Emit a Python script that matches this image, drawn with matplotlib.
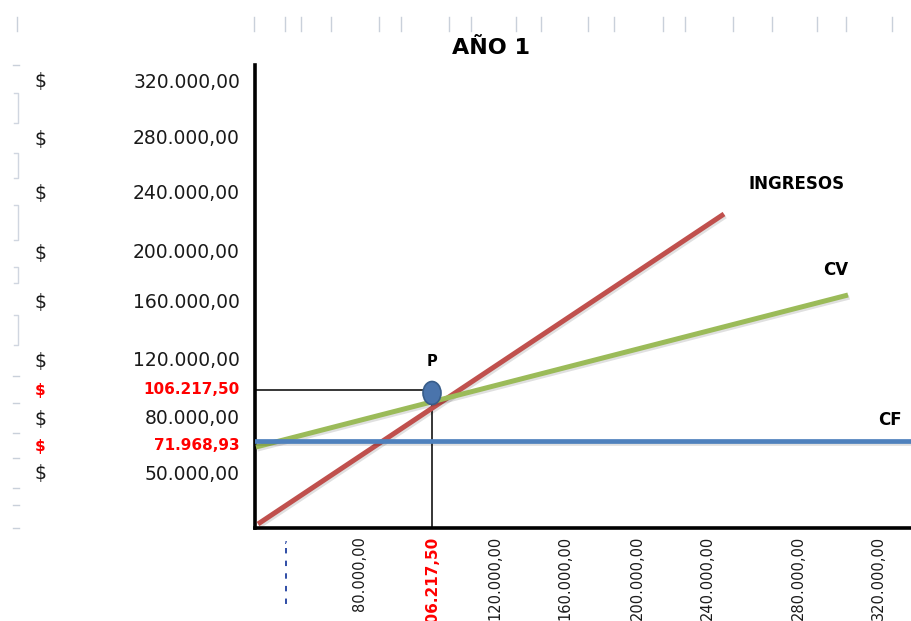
import matplotlib
matplotlib.use("Agg")
import matplotlib.pyplot as plt
from matplotlib.patches import Ellipse
from matplotlib.lines import Line2D
import matplotlib.patheffects as pe

# Diagram units: origin at the crossing of the axes (hand-drawn break-even sketch)
title = "AÑO 1"

ytick_labels = ["320.000,00", "280.000,00", "240.000,00", "200.000,00", "160.000,00",
                "120.000,00", "106.217,50", "80.000,00", "71.968,93", "50.000,00"]
ytick_pos = [446, 389, 335, 275, 226, 167, 138, 109, 82, 54]
ytick_red = [False, False, False, False, False, False, True, False, True, False]

xtick_labels = ["80.000,00", "106.217,50", "120.000,00", "160.000,00", "200.000,00",
                "240.000,00", "280.000,00", "320.000,00"]
xtick_pos = [105, 177, 240, 310, 382, 452, 543, 623]
xtick_red = [False, True, False, False, False, False, False, False]
xtick_dash = 31

ingresos_x = [3, 469]
ingresos_y = [4, 314]
cv_x = [1, 593]
cv_y = [81, 233]
cf_y = 87
p_x, p_y = 177, 135

W, H = 912, 621
fig = plt.figure(figsize=(W / 100, H / 100), dpi=100)
fig.patch.set_facecolor("white")

x0, y0, x1, y1 = 255, 528, 912, 65
ax = fig.add_axes([x0 / W, (H - y0) / H, (x1 - x0) / W, (y0 - y1) / H])
ax.set_xlim(0, x1 - x0)
ax.set_ylim(0, y0 - y1)
for s in ["top", "right"]:
    ax.spines[s].set_visible(False)
for s in ["left", "bottom"]:
    ax.spines[s].set_linewidth(2.6)
    ax.spines[s].set_color("black")
ax.set_xticks([])
ax.set_yticks([])

shadow = [pe.SimpleLineShadow(offset=(1, -1.5), alpha=0.12), pe.Normal()]

ax.plot(ingresos_x, ingresos_y, color="#C0504D", lw=3.6, solid_capstyle="butt",
        path_effects=shadow, zorder=3)
ax.plot(cv_x, cv_y, color="#9BBB59", lw=3.6, solid_capstyle="butt",
        path_effects=shadow, zorder=3)
ax.axhline(cf_y, color="#4F81BD", lw=3.4, path_effects=shadow, zorder=3)

# guide lines to P
ax.plot([0, p_x], [p_y + 3, p_y + 3], color="black", lw=1.1, zorder=2)
ax.plot([p_x, p_x], [0, p_y], color="black", lw=1.1, zorder=2)
ax.add_patch(Ellipse((p_x, p_y), 18, 23, facecolor="#4A74AC", edgecolor="#385D8A",
                     lw=1.2, zorder=4))
ax.text(p_x, p_y + 31, "P", ha="center", va="center", fontsize=10.5, fontweight="bold")

ax.text(542, 344, "INGRESOS", ha="center", va="center", fontsize=12, fontweight="bold")
ax.text(581, 258, "CV", ha="center", va="center", fontsize=12, fontweight="bold")
ax.text(635, 108, "CF", ha="center", va="center", fontsize=12, fontweight="bold")

fig.text(491 / W, 1 - 48 / H, title, ha="center", va="center", fontsize=16,
         fontweight="bold")

# y tick labels ($ and amount)
for lab, pos, red in zip(ytick_labels, ytick_pos, ytick_red):
    yf = (H - y0 + pos) / H
    if red:
        kw = dict(color="#FF0000", fontsize=11, fontweight="bold")
    else:
        kw = dict(color="#1a1a1a", fontsize=13.5)
    fig.text(40 / W, yf, "$", ha="center", va="center", **kw)
    fig.text(240 / W, yf, lab, ha="right", va="center", **kw)

# x tick labels, rotated
for lab, pos, red in zip(xtick_labels, xtick_pos, xtick_red):
    xf = (x0 + pos) / W
    if red:
        kw = dict(color="#FF0000", fontsize=11, fontweight="bold")
    else:
        kw = dict(color="#1a1a1a", fontsize=10.5)
    fig.text(xf, 1 - 536 / H, lab, ha="center", va="top", rotation=90, **kw)

xf = (x0 + xtick_dash) / W
fig.add_artist(Line2D([xf, xf], [1 - 548 / H, 1 - 608 / H], color="#1F3F9F", lw=1.3,
                      linestyle=(0, (3, 4))))
fig.text(xf, 1 - 540 / H, ",", ha="center", va="center", fontsize=9, color="#1F3F9F")

# faint spreadsheet marks around the edges
top_marks = [254, 285, 301, 331, 379, 401, 449, 471, 516, 541, 588, 614, 663, 685,
             733, 772, 817, 846, 892]
for xm in top_marks:
    fig.add_artist(Line2D([xm / W, xm / W], [1 - 17 / H, 1 - 31 / H], color="#C9D0DA",
                          lw=1.0))
fig.add_artist(Line2D([17 / W, 17 / W], [1 - 17 / H, 1 - 31 / H], color="#C9D0DA", lw=1.0))
left_brackets = [(93, 123), (153, 178), (205, 240), (267, 283), (315, 345)]
for a, b in left_brackets:
    fig.add_artist(Line2D([14 / W, 18 / W, 18 / W, 14 / W],
                          [1 - a / H, 1 - a / H, 1 - b / H, 1 - b / H],
                          color="#D0D6E0", lw=1.0))
for ym in [65, 376, 403, 433, 458, 488, 505, 528]:
    fig.add_artist(Line2D([13 / W, 19 / W], [1 - ym / H, 1 - ym / H], color="#C9D0DA",
                          lw=1.0))

fig.savefig("out.png", dpi=100)
